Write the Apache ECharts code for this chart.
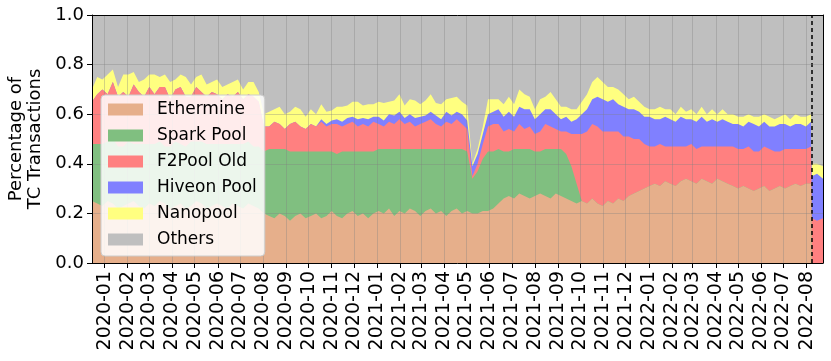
<!DOCTYPE html>
<html>
<head>
<meta charset="utf-8">
<script src="https://cdn.jsdelivr.net/npm/echarts@6/dist/echarts.min.js"></script>
<style>
  html, body { margin: 0; padding: 0; background: #fff; }
  #chart { width: 831px; height: 361px; }
</style>
</head>
<body>
<div id="chart"></div>
<script>
// weekly samples from 2019-12-15, then a few points after the dashed line
var dates = [];
for (var i = 0; i < 139; i++) {
  dates.push(new Date(2019, 11, 15 + 7 * i).getTime());
}
dates.push(new Date(2022, 7, 8).getTime(), new Date(2022, 7, 15).getTime(), new Date(2022, 7, 23).getTime());

var mergeDate = new Date(2022, 7, 8).getTime();

// month ticks 2020-01 .. 2022-08
var monthTicks = [];
for (var m = 0; m < 32; m++) {
  monthTicks.push(new Date(2020, m, 1).getTime());
}

var eth = [
  0.25,0.24,0.23,0.25,0.24,0.22,0.23,0.24,0.25,0.23,0.22,0.24,0.23,0.25,0.24,0.22,0.23,0.24,0.22,0.23,0.25,0.24,0.22,0.23,0.24,0.23,0.22,0.24,0.23,0.22,0.24,0.23,0.22,
  0.20,0.19,0.18,0.20,0.19,0.17,0.19,0.20,0.18,0.19,0.20,0.18,0.19,0.21,0.19,0.18,0.20,0.21,0.19,0.20,0.18,0.20,
  0.21,0.20,0.22,0.19,0.21,0.20,0.22,0.21,0.19,0.21,0.22,0.20,0.21,0.19,0.21,0.22,0.20,0.21,0.20,0.20,0.21,0.21,0.22,0.24,
  0.26,0.27,0.26,0.28,0.27,0.26,0.27,0.28,0.27,0.26,0.28,0.27,0.26,0.25,0.24,
  0.25,0.24,0.26,0.24,0.23,0.25,0.24,0.26,0.25,0.27,0.28,0.29,
  0.30,0.31,0.32,0.31,0.33,0.32,0.31,0.33,0.34,0.33,0.32,0.34,0.33,0.32,0.34,0.33,0.32,0.31,
  0.30,0.31,0.30,0.29,0.30,0.31,0.29,0.30,0.31,0.30,0.31,0.32,0.31,0.32,0.32,
  0,0,0
];
var spark = [
  0.23,0.24,0.25,0.24,0.26,0.25,0.24,0.25,0.23,0.25,0.26,0.24,0.25,0.24,0.23,0.25,0.26,0.24,0.25,0.26,0.24,0.25,0.26,0.25,0.24,0.25,0.26,0.24,0.25,0.26,0.25,0.24,0.25,
  0.25,0.27,0.28,0.26,0.27,0.28,0.26,0.25,0.27,0.26,0.25,0.27,0.26,0.24,0.25,0.27,0.25,0.24,0.26,0.25,0.27,0.25,
  0.25,0.26,0.24,0.27,0.25,0.26,0.24,0.25,0.27,0.25,0.24,0.26,0.25,0.27,0.25,0.24,0.26,0.24,0.14,0.17,0.21,0.24,0.23,0.22,
  0.19,0.18,0.20,0.18,0.19,0.20,0.18,0.17,0.19,0.20,0.18,0.19,0.18,0.14,0.08,
  0,0,0,0,0,0,0,0,0,0,0,0,
  0,0,0,0,0,0,0,0,0,0,0,0,0,0,0,0,0,0,
  0,0,0,0,0,0,0,0,0,0,0,0,0,0,0,
  0,0,0
];
var f2 = [
  0.17,0.20,0.22,0.19,0.23,0.20,0.22,0.18,0.24,0.21,0.19,0.23,0.20,0.22,0.24,0.19,0.21,0.23,0.20,0.18,0.22,0.20,0.19,0.21,0.20,0.18,0.20,0.19,0.21,0.18,0.19,0.20,0.18,
  0.10,0.09,0.11,0.10,0.08,0.11,0.12,0.10,0.09,0.11,0.10,0.12,0.10,0.11,0.12,0.10,0.11,0.12,0.10,0.11,0.10,0.12,
  0.10,0.09,0.11,0.10,0.12,0.10,0.11,0.09,0.10,0.11,0.12,0.10,0.09,0.11,0.10,0.12,0.10,0.09,0.01,0.03,0.06,0.10,0.11,0.10,
  0.08,0.09,0.07,0.10,0.08,0.09,0.07,0.08,0.10,0.09,0.08,0.07,0.09,0.13,0.20,
  0.27,0.29,0.30,0.31,0.30,0.28,0.29,0.27,0.26,0.24,0.22,0.21,
  0.18,0.16,0.15,0.17,0.14,0.15,0.16,0.14,0.13,0.15,0.14,0.13,0.14,0.15,0.13,0.14,0.15,0.16,
  0.16,0.15,0.17,0.16,0.15,0.16,0.17,0.15,0.14,0.16,0.15,0.14,0.15,0.14,0.15,
  0.18,0.17,0.18
];
var hiveon = [
  0,0,0,0,0,0,0,0,0,0,0,0,0,0,0,0,0,0,0,0,0,0,0,0,0,0,0,0,0,0,0,0,0,
  0,0,0,0,0,0,0,0,0,0,0,0.01,0.01,0.015,0.02,0.02,0.025,0.02,0.03,0.025,0.03,0.02,
  0.03,0.025,0.03,0.035,0.03,0.025,0.03,0.035,0.03,0.025,0.03,0.035,0.03,0.04,0.035,0.03,0.04,0.035,0.04,0.04,0.04,0.05,0.05,0.06,
  0.06,0.07,0.06,0.07,0.08,0.07,0.06,0.07,0.06,0.07,0.06,0.05,0.06,0.05,0.06,
  0.08,0.09,0.10,0.12,0.13,0.12,0.13,0.11,0.12,0.11,0.12,0.11,
  0.11,0.12,0.11,0.10,0.12,0.11,0.10,0.12,0.11,0.10,0.11,0.12,0.10,0.11,0.10,0.11,0.10,0.09,
  0.10,0.09,0.10,0.11,0.10,0.10,0.09,0.10,0.11,0.10,0.09,0.10,0.10,0.09,0.10,
  0.17,0.19,0.16
];
var nano = [
  0.05,0.07,0.04,0.08,0.05,0.04,0.07,0.09,0.05,0.04,0.07,0.05,0.08,0.04,0.05,0.07,0.04,0.05,0.08,0.05,0.04,0.07,0.05,0.04,0.06,0.05,0.04,0.06,0.05,0.04,0.05,0.06,0.04,
  0.05,0.06,0.05,0.07,0.06,0.05,0.06,0.07,0.05,0.06,0.05,0.06,0.05,0.04,0.05,0.06,0.05,0.06,0.07,0.05,0.06,0.05,
  0.06,0.07,0.05,0.06,0.07,0.05,0.06,0.07,0.05,0.06,0.07,0.05,0.06,0.05,0.07,0.06,0.05,0.06,0.01,0.02,0.03,0.06,0.05,0.04,
  0.05,0.06,0.05,0.07,0.06,0.05,0.04,0.06,0.05,0.07,0.06,0.05,0.04,0.05,0.04,
  0.05,0.06,0.07,0.08,0.07,0.06,0.05,0.06,0.05,0.04,0.05,0.04,
  0.04,0.03,0.04,0.05,0.03,0.04,0.03,0.04,0.03,0.04,0.03,0.04,0.03,0.04,0.03,0.04,0.03,0.04,
  0.03,0.04,0.03,0.03,0.04,0.03,0.04,0.03,0.03,0.04,0.03,0.04,0.03,0.04,0.03,
  0.05,0.04,0.05
];
// gray fills the rest up to 1
var others = dates.map(function (d, i) {
  return +(1 - (eth[i] + spark[i] + f2[i] + hiveon[i] + nano[i])).toFixed(3);
});

var names = ['Ethermine', 'Spark Pool', 'F2Pool Old', 'Hiveon Pool', 'Nanopool', 'Others'];
var colors = ['#e6af8b', '#80bf80', '#ff8080', '#8080ff', '#ffff80', '#bfbfbf'];
var values = [eth, spark, f2, hiveon, nano, others];

var font = 'DejaVu Sans';
var xMin = new Date(2019, 11, 15).getTime();
var xMax = new Date(2022, 7, 23).getTime();

// stack by hand (echarts' stack does not match on a value x axis):
// each layer is drawn as its running total filled down to 0, top layer first
var running = dates.map(function () { return 0; });
var series = values.map(function (arr, k) {
  running = running.map(function (r, i) { return r + arr[i]; });
  var s = {
    name: names[k],
    type: 'line',
    symbol: 'none',
    showSymbol: false,
    color: colors[k],
    lineStyle: { width: 0 },
    areaStyle: { color: colors[k], opacity: 1 },
    z: 2 + (values.length - k) * 0.01,
    data: dates.map(function (d, i) { return [d, +running[i].toFixed(4)]; })
  };
  if (k === 5) {
    s.markLine = {
      silent: true,
      symbol: ['none', 'none'],
      label: { show: false },
      lineStyle: { color: '#000', type: [4, 3], width: 1.5 },
      z: 4,
      data: [{ xAxis: mergeDate }]
    };
  }
  return s;
});
series.reverse();

var chart = echarts.init(document.getElementById('chart'), null, { renderer: 'canvas' });
chart.setOption({
  animation: false,
  backgroundColor: '#fff',
  grid: { left: 92, right: 8, top: 15, bottom: 98, outerBoundsMode: 'none' },
  legend: {
    orient: 'vertical',
    left: 101,
    top: 95,
    z: 20,
    data: names,
    icon: 'rect',
    itemWidth: 35,
    itemHeight: 12,
    itemGap: 9,
    padding: [6, 8, 8, 7],
    selectedMode: false,
    backgroundColor: 'rgba(255,255,255,0.85)',
    borderColor: '#cccccc',
    borderWidth: 1,
    borderRadius: 4,
    textStyle: { fontFamily: font, fontSize: 17, color: '#000', lineHeight: 17, padding: [0, 0, 0, 9] }
  },
  xAxis: [{
    type: 'value',
    min: xMin,
    max: xMax,
    z: 5,
    axisLine: { onZero: false, lineStyle: { color: '#000', width: 1 } },
    axisTick: { show: true, length: 5, customValues: monthTicks, lineStyle: { color: '#000' } },
    splitLine: { show: true, lineStyle: { color: 'rgba(128,128,128,0.35)', width: 1 } },
    axisLabel: {
      customValues: monthTicks,
      rotate: 90,
      margin: 8,
      fontFamily: font,
      fontSize: 19,
      color: '#000',
      formatter: function (v) {
        var d = new Date(v);
        var mm = d.getMonth() + 1;
        return d.getFullYear() + '-' + (mm < 10 ? '0' + mm : mm);
      }
    }
  }, {
    type: 'value',
    position: 'top',
    min: xMin,
    max: xMax,
    z: 6,
    axisLine: { onZero: false, lineStyle: { color: '#000', width: 1 } },
    axisTick: { show: false },
    axisLabel: { show: false },
    splitLine: { show: false }
  }],
  yAxis: [{
    type: 'value',
    min: 0,
    max: 1,
    interval: 0.2,
    z: 5,
    name: 'Percentage of\nTC Transactions',
    nameLocation: 'middle',
    nameGap: 38,
    nameTextStyle: { fontFamily: font, fontSize: 18, color: '#000', lineHeight: 19 },
    axisLine: { show: true, lineStyle: { color: '#000', width: 1 } },
    axisTick: { show: true, length: 5, lineStyle: { color: '#000' } },
    splitLine: { show: true, lineStyle: { color: 'rgba(128,128,128,0.35)', width: 1 } },
    axisLabel: {
      fontFamily: font,
      fontSize: 18,
      color: '#000',
      margin: 8,
      formatter: function (v) { return v.toFixed(1); }
    }
  }, {
    type: 'value',
    position: 'right',
    min: 0,
    max: 1,
    z: 6,
    axisLine: { show: true, lineStyle: { color: '#000', width: 1 } },
    axisTick: { show: false },
    axisLabel: { show: false },
    splitLine: { show: false }
  }],
  series: series
});
</script>
</body>
</html>
